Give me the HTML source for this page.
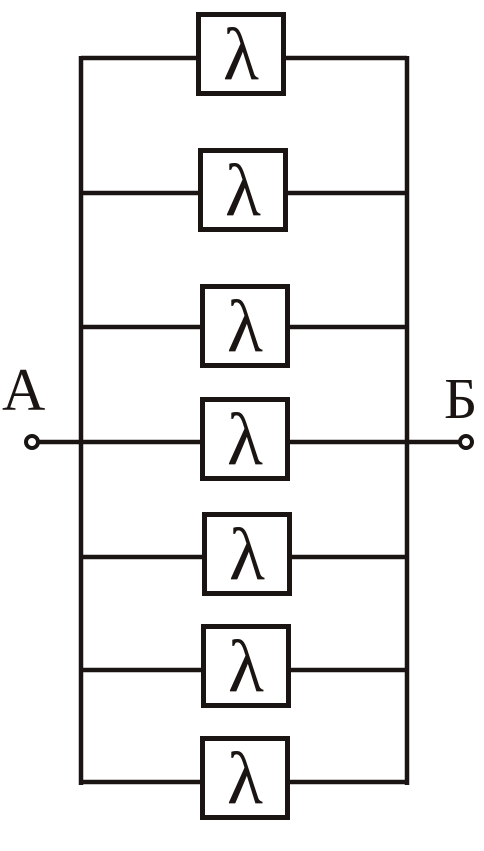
<!DOCTYPE html>
<html><head><meta charset="utf-8"><style>
html,body{margin:0;padding:0;background:#fff;width:484px;height:851px;overflow:hidden}
svg{display:block}
text{font-family:"Liberation Serif",serif;fill:#1a1512}
</style></head><body>
<svg id="c" width="484" height="851" viewBox="0 0 484 851">
<g stroke="#1a1512" stroke-width="4.5" fill="none">
<line x1="81" y1="56" x2="81" y2="785"/>
<line x1="407" y1="56" x2="407" y2="785"/>
<line x1="38" y1="442" x2="81" y2="442"/>
<line x1="407" y1="442" x2="460" y2="442"/>
<circle cx="32" cy="442" r="6" stroke-width="4"/>
<circle cx="466" cy="442" r="6" stroke-width="4"/>
</g>
<text x="2" y="410" font-size="60">А</text>
<text x="444" y="418" font-size="58">Б</text>
<g id="rows"></g>
</svg>
<script>
const wireY=[58,193,327,442,557,670,782];
const boxX=[196,198,200,200,202,201,200];
const boxTop=[12,148,284,397,512,624,736];
const NS='http://www.w3.org/2000/svg';
const g=document.getElementById('rows');
for(let i=0;i<wireY.length;i++){
  const y=wireY[i],x=boxX[i],t=boxTop[i],w=90,h=84;
  const l1=document.createElementNS(NS,'line');
  l1.setAttribute('x1',81);l1.setAttribute('x2',x);l1.setAttribute('y1',y);l1.setAttribute('y2',y);
  l1.setAttribute('stroke','#1a1512');l1.setAttribute('stroke-width','4.5');
  
  
  g.appendChild(l1);
  const l2=document.createElementNS(NS,'line');
  l2.setAttribute('x1',x+w);l2.setAttribute('x2',407);l2.setAttribute('y1',y);l2.setAttribute('y2',y);
  l2.setAttribute('stroke','#1a1512');l2.setAttribute('stroke-width','4.5');
  
  
  g.appendChild(l2);
  const r=document.createElementNS(NS,'rect');
  r.setAttribute('x',x+2.5);r.setAttribute('y',t+2.5);r.setAttribute('width',w-5);r.setAttribute('height',h-5);
  r.setAttribute('fill','#fff');r.setAttribute('stroke','#1a1512');r.setAttribute('stroke-width','5');
  
  
  g.appendChild(r);
  const tx=document.createElementNS(NS,'text');
  tx.setAttribute('x',x+w/2);tx.setAttribute('y',t+h/2+25);tx.setAttribute('text-anchor','middle');
  tx.setAttribute('font-size','74');
  tx.textContent='λ';
  
  
  g.appendChild(tx);
}
</script>
</body></html>
